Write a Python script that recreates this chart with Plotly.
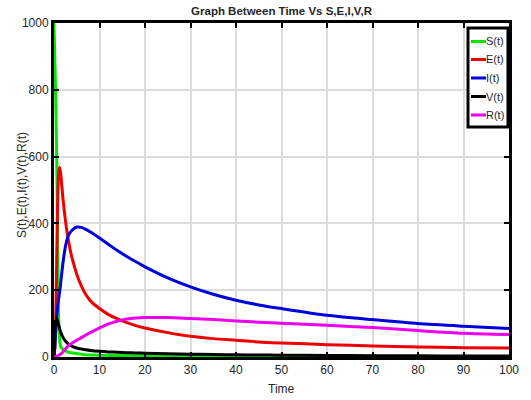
import plotly.graph_objects as go

# ---- data ----
t = [0, 0.2, 0.4, 0.6, 0.8, 1, 1.25, 1.5, 2, 2.5, 3, 3.5, 4, 5, 6, 7, 8, 10, 12, 14, 16, 18, 20,
     25, 30, 35, 40, 45, 50, 60, 70, 80, 90, 100]
S = [1000, 900, 760, 590, 300, 120, 45, 30, 22, 18, 15, 13.5, 12, 10, 8, 7, 6, 5, 4.5, 4, 3.6, 3.3, 3,
     2.6, 2.3, 2.1, 2, 1.9, 1.8, 1.6, 1.5, 1.4, 1.3, 1.2]
E = [0, 30, 130, 300, 460, 550, 568, 545, 470, 410, 362, 325, 295, 248, 213, 187, 168, 145, 127, 114, 103, 94, 87,
     73, 62, 55, 50, 45, 42, 37, 33, 30, 28, 27]
I = [0, 35, 80, 120, 150, 172, 195, 225, 285, 330, 358, 372, 380, 389, 388, 382, 374, 356, 337, 318, 301, 285, 270,
     237, 210, 188, 170, 156, 145, 125, 112, 100, 92, 85]
V = [0, 80, 110, 115, 108, 97, 84, 73, 58, 48, 41, 36, 32, 27, 24, 21.5, 19.5, 17, 15.3, 14, 13, 12.2, 11.5,
     10, 8.5, 7.5, 6.5, 6, 5.5, 4.5, 4, 3.5, 3, 3]
R = [0, 0.5, 1, 2, 3, 5, 7, 9, 16, 24, 32, 37, 42, 50, 58, 66, 73, 87, 99, 108, 114, 117, 118,
     118, 115, 112, 108, 104, 101, 95, 88, 79, 71, 67]

names = ["S(t)", "E(t)", "I(t)", "V(t)", "R(t)"]
colors = ["#00e600", "#ee0000", "#0000dd", "#000000", "#ee00ee"]
series = [S, E, I, V, R]
shapes_line = ["linear", "spline", "spline", "spline", "spline"]
x_ticks = [0, 10, 20, 30, 40, 50, 60, 70, 80, 90, 100]
y_ticks = [0, 200, 400, 600, 800, 1000]

fig = go.Figure()
for name, col, ys, sh in zip(names, colors, series, shapes_line):
    line = dict(color=col, width=3, shape=sh)
    if sh == "spline":
        line["smoothing"] = 0.7
    fig.add_trace(go.Scatter(x=t[:len(ys)], y=ys, mode="lines", name=name, line=line, showlegend=False))

W, H = 531, 400
L, Rm, T, B = 54, 22, 23, 43
pw, ph = W - L - Rm, H - T - B

def px(p):
    return (p - L) / pw

def py(p):
    return 1 - (p - T) / ph

font_family = "Liberation Sans, Arial, sans-serif"
txt_color = "#262626"
tickfont = dict(family=font_family, size=12, color=txt_color)

axis_common = dict(showline=True, linecolor="black", linewidth=3, mirror="allticks",
                   ticks="inside", ticklen=5, tickwidth=2, tickcolor="black",
                   showgrid=True, gridcolor="#dcdcdc", gridwidth=2, zeroline=False,
                   tickfont=tickfont, automargin=False)

fig.update_xaxes(range=[0, 100], tickvals=x_ticks, **axis_common)
fig.update_yaxes(range=[0, 1000], tickvals=y_ticks, **axis_common)

# custom legend box
shapes = [dict(type="rect", xref="paper", yref="paper", x0=px(468), x1=px(508), y0=py(127), y1=py(28),
               line=dict(color="black", width=3), fillcolor="white", layer="above")]
annotations = [
    dict(xref="paper", yref="paper", x=px(22), y=py(185), text="S(t),E(t),I(t),V(t),R(t)",
         textangle=-90, showarrow=False, xanchor="center", yanchor="middle",
         font=dict(family=font_family, size=12, color=txt_color)),
    dict(xref="paper", yref="paper", x=px(281), y=py(389), text="Time",
         showarrow=False, xanchor="center", yanchor="middle",
         font=dict(family=font_family, size=12, color=txt_color)),
]
ys_leg = [41.5, 59.5, 78, 96.5, 115]
for name, col, yy in zip(names, colors, ys_leg):
    shapes.append(dict(type="line", xref="paper", yref="paper", x0=px(471), x1=px(486), y0=py(yy), y1=py(yy),
                       line=dict(color=col, width=3), layer="above"))
    annotations.append(dict(xref="paper", yref="paper", x=px(486), y=py(yy), text=name, showarrow=False,
                            xanchor="left", yanchor="middle", xshift=-2,
                            font=dict(family=font_family, size=11, color=txt_color)))

fig.update_layout(
    width=W, height=H,
    margin=dict(l=L, r=Rm, t=T, b=B, autoexpand=False),
    paper_bgcolor="white", plot_bgcolor="white",
    title=dict(text="<b>Graph Between Time Vs S,E,I,V,R</b>", x=(L + pw / 2) / W, xanchor="center",
               y=1 - 11 / H, yanchor="middle", font=dict(family=font_family, size=11.5, color=txt_color)),
    shapes=shapes, annotations=annotations,
)

fig.write_html("out.html")
